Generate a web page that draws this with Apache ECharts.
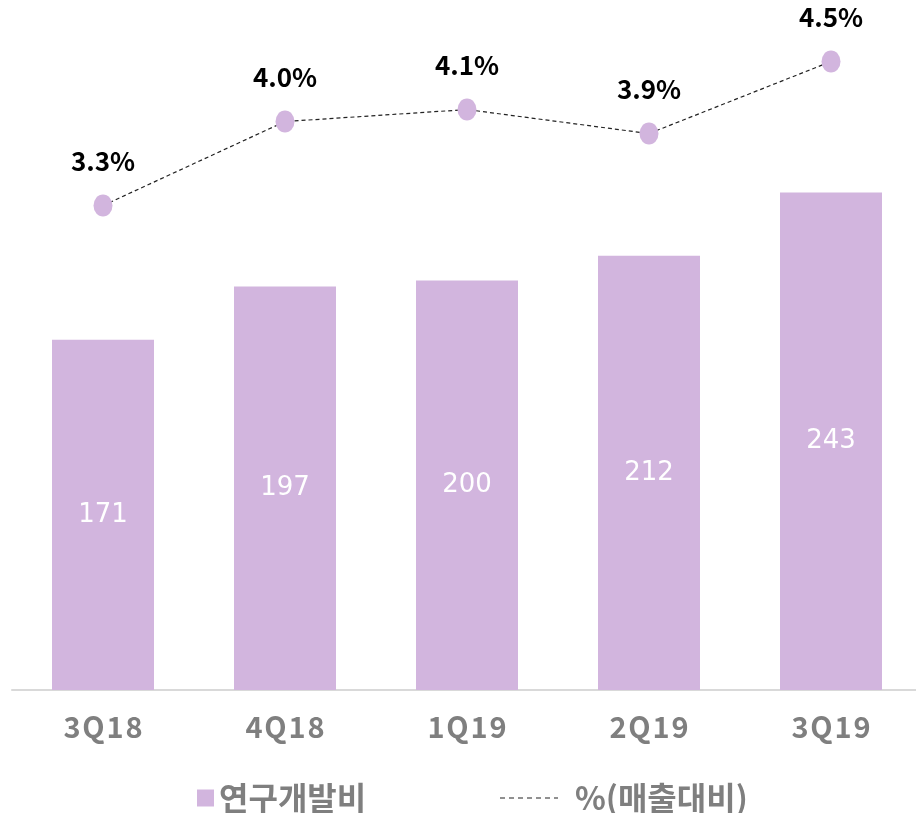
<!DOCTYPE html>
<html>
<head>
<meta charset="utf-8">
<script src="https://cdn.jsdelivr.net/npm/echarts@6/dist/echarts.min.js"></script>
<style>
html, body { margin: 0; padding: 0; background: #fff; }
#main { width: 916px; height: 813px; }
</style>
</head>
<body>
<div id="main"></div>
<script>
var quarters = ['3Q18', '4Q18', '1Q19', '2Q19', '3Q19'];
var rndCost = [171, 197, 200, 212, 243];
var rndRatio = [3.3, 4.0, 4.1, 3.9, 4.5];

var purple = '#d2b5de';
var font = '"Noto Sans CJK KR", "Noto Sans", sans-serif';

var option = {
    backgroundColor: '#fff',
    textStyle: { fontFamily: font },
    animation: false,
    grid: { left: 12, right: -6, top: 30, height: 660, outerBoundsMode: 'none', containLabel: false },
    legend: [
        {
            left: 192, top: 777,
            itemWidth: 17, itemHeight: 17, itemGap: 6,
            icon: 'rect',
            data: ['연구개발비'],
            textStyle: { fontSize: 32, fontWeight: 'bold', color: '#7f7f7f', fontFamily: font }
        },
        {
            left: 495, top: 777,
            itemWidth: 58, itemHeight: 2, itemGap: 6,
            data: [{
                name: '%(매출대비)',
                icon: 'path://M0,0h5v1h-5z M9,0h5v1h-5z M18,0h5v1h-5z M27,0h5v1h-5z M36,0h5v1h-5z M45,0h5v1h-5z M54,0h4v1h-4z',
                itemStyle: { color: '#222' }
            }],
            textStyle: { fontSize: 32, fontWeight: 'bold', color: '#7f7f7f', fontFamily: font, padding: [0, 0, 0, 12] }
        }
    ],
    xAxis: {
        type: 'category',
        data: quarters,
        axisLine: { lineStyle: { color: '#d9d9d9', width: 2 } },
        axisTick: { show: false },
        axisLabel: {
            margin: 22, fontSize: 29, fontWeight: 'bold', color: '#7f7f7f', fontFamily: font,
            formatter: function (v) { return v.split('').join('\u200a'); }
        }
    },
    yAxis: [
        { type: 'value', min: 0, max: 322.3, show: false, splitLine: { show: false } },
        { type: 'value', min: -0.737, max: 4.763, show: false, splitLine: { show: false } }
    ],
    series: [
        {
            name: '연구개발비',
            type: 'bar',
            data: rndCost,
            barWidth: 102,
            itemStyle: { color: purple },
            label: {
                show: true, position: 'inside',
                color: '#fff', fontSize: 26, fontFamily: '"DejaVu Sans", sans-serif'
            }
        },
        {
            name: '%(매출대비)',
            type: 'line',
            yAxisIndex: 1,
            data: rndRatio,
            symbol: 'circle',
            symbolSize: [19, 22],
            itemStyle: { color: purple },
            lineStyle: { color: '#222', width: 1.2, type: [4, 3] },
            label: {
                show: true, position: 'top', distance: 20,
                color: '#000', fontSize: 26, fontWeight: 'bold', fontFamily: font,
                formatter: function (p) { return p.value.toFixed(1) + '%'; }
            },
            z: 5
        }
    ]
};

var chart = echarts.init(document.getElementById('main'));
chart.setOption(option);
</script>
</body>
</html>
